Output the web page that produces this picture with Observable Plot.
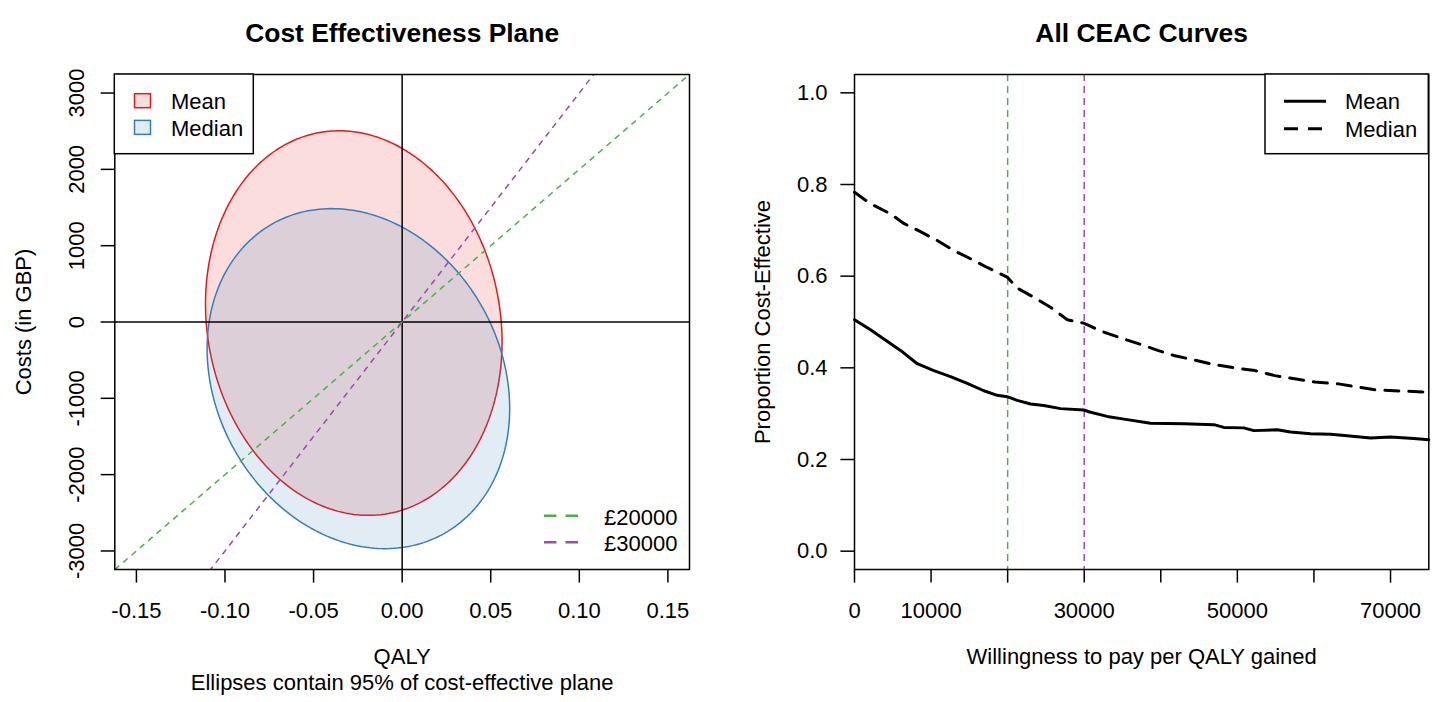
<!DOCTYPE html>
<html>
<head>
<meta charset="utf-8">
<script src="https://cdn.jsdelivr.net/npm/d3@7"></script>
<script src="https://cdn.jsdelivr.net/npm/@observablehq/plot@0.6"></script>
<style>
  html, body { margin: 0; padding: 0; background: white; }
  #wrap { position: relative; width: 1435px; height: 702px; overflow: hidden; background: white; }
  #left, #right { position: absolute; top: 0; }
  #left { left: 0; }
  #right { left: 717px; }
  svg text { font-family: "Liberation Sans", Arial, sans-serif; }
</style>
</head>
<body>
<div id="wrap"><div id="left"></div><div id="right"></div></div>
<script>
// ---------- Data ----------
// Cost-effectiveness plane: 95% ellipses
const ellipseNames = ["Mean", "Median"];
const ellipseColors = ["#E41A1C", "#377EB8"];
const ellipseCenterQaly = [-0.0273, -0.0247];
const ellipseCenterCost = [-14, -742];
const ellipseHalfWidthQaly = [0.0837, 0.0854];   // half width along QALY
const ellipseCostAtQalyExtreme = [-249, -393];   // cost offset at the QALY extremes
const ellipseCostSpread = [2507, 2193];          // remaining cost half-range

// Willingness-to-pay thresholds
const thresholds = [20000, 30000];
const thresholdLabels = ["£20000", "£30000"];
const thresholdColors = ["#4DAF4A", "#984EA3"];

// Axis ticks
const qalyTicks = [-0.15, -0.10, -0.05, 0.00, 0.05, 0.10, 0.15];
const costTicks = [-3000, -2000, -1000, 0, 1000, 2000, 3000];
const qalyDomain = [-0.1622, 0.1622];
const costDomain = [-3243, 3243];

const wtpTicks = [0, 10000, 20000, 30000, 40000, 50000, 60000, 70000];
const wtpTickLabels = [0, 10000, 30000, 50000, 70000];
const propTicks = [0, 0.2, 0.4, 0.6, 0.8, 1.0];
const wtpDomain = [0, 75000];
const propDomain = [-0.04, 1.04];

// CEAC curves
const ceacNames = ["Mean", "Median"];
const wtpMean = [0, 2090, 3830, 6010, 8190, 10360, 12540, 14720, 16890, 18640, 19940, 21250, 22990, 24720, 26900, 29950, 30840, 33000, 35610, 38660, 43010, 46930, 48230, 50840, 52150, 55200, 56940, 59550, 62160, 64350, 67390, 70000, 73040, 75000];
const propMean = [0.505, 0.483, 0.463, 0.438, 0.409, 0.394, 0.381, 0.366, 0.350, 0.340, 0.337, 0.329, 0.321, 0.318, 0.311, 0.308, 0.303, 0.294, 0.287, 0.279, 0.278, 0.276, 0.270, 0.269, 0.263, 0.265, 0.260, 0.256, 0.255, 0.252, 0.247, 0.249, 0.246, 0.243];
const wtpMedian = [0, 2090, 4700, 6440, 8620, 10800, 12970, 15150, 17330, 19940, 21250, 23420, 25600, 27800, 30000, 32200, 34800, 37400, 39600, 41700, 44400, 47000, 50000, 52300, 54900, 57500, 60100, 63200, 65800, 68000, 71900, 75000];
const propMedian = [0.783, 0.758, 0.736, 0.715, 0.697, 0.678, 0.656, 0.638, 0.619, 0.598, 0.574, 0.554, 0.532, 0.505, 0.497, 0.480, 0.465, 0.451, 0.438, 0.427, 0.417, 0.407, 0.399, 0.394, 0.383, 0.376, 0.369, 0.365, 0.358, 0.352, 0.349, 0.347];

// ---------- Build tables ----------
const ellipseRows = [];
ellipseNames.forEach((name, i) => {
  const n = 240;
  for (let k = 0; k < n; k++) {
    const t = 2 * Math.PI * k / n;
    ellipseRows.push({
      group: name,
      qaly: ellipseCenterQaly[i] + ellipseHalfWidthQaly[i] * Math.cos(t),
      cost: ellipseCenterCost[i] + ellipseCostAtQalyExtreme[i] * Math.cos(t) + ellipseCostSpread[i] * Math.sin(t)
    });
  }
});
const thresholdRows = thresholds.map((k, i) => ({
  k, color: thresholdColors[i],
  x1: qalyDomain[0], y1: k * qalyDomain[0], x2: qalyDomain[1], y2: k * qalyDomain[1]
}));
const meanRows = wtpMean.map((w, i) => ({wtp: w, p: propMean[i]}));
const medianRows = wtpMedian.map((w, i) => ({wtp: w, p: propMedian[i]}));

const FONT = '"Liberation Sans", Arial, sans-serif';
const baseStyle = {fontFamily: FONT, fontSize: "22px", background: "white", color: "black", overflow: "visible"};

// ---------- Left plot: Cost Effectiveness Plane ----------
const left = Plot.plot({
  width: 717, height: 702,
  marginLeft: 114.3, marginRight: 28, marginTop: 74, marginBottom: 133,
  style: baseStyle,
  x: {domain: qalyDomain, label: null},
  y: {domain: costDomain, label: null},
  marks: [
    ...ellipseNames.map((name, i) => Plot.line(ellipseRows.filter(d => d.group === name), {
      x: "qaly", y: "cost", curve: "linear-closed",
      fill: ellipseColors[i], fillOpacity: 0.15, stroke: ellipseColors[i], strokeWidth: 1.5
    })),
    Plot.ruleX([0], {stroke: "black", strokeWidth: 1.5}),
    Plot.ruleY([0], {stroke: "black", strokeWidth: 1.5}),
    Plot.link(thresholdRows, {x1: "x1", y1: "y1", x2: "x2", y2: "y2", stroke: "color", strokeWidth: 1.5, strokeDasharray: "6 5", clip: true}),
    Plot.frame({stroke: "black", strokeWidth: 1.5}),
    Plot.axisX({ticks: qalyTicks, tickFormat: d => d.toFixed(2), tickSize: 13.6, tickPadding: 18.8, strokeWidth: 1.5, label: null, fontSize: 22}),
    Plot.axisY({ticks: costTicks, tickFormat: d => String(d), tickSize: 13.6, tickPadding: 17.4, tickRotate: -90, strokeWidth: 1.5, label: null, fontSize: 22}),
    Plot.text(["Cost Effectiveness Plane"], {text: d => d, frameAnchor: "top", dy: -50.8, fontWeight: "bold", fontSize: 26.4, textAnchor: "middle"}),
    Plot.text(["QALY"], {text: d => d, frameAnchor: "bottom", dy: 94, fontSize: 22, textAnchor: "middle"}),
    Plot.text(["Ellipses contain 95% of cost-effective plane"], {text: d => d, frameAnchor: "bottom", dy: 120.7, fontSize: 22, textAnchor: "middle"}),
    Plot.text(["Costs (in GBP)"], {text: d => d, frameAnchor: "left", dx: -91.3, rotate: -90, fontSize: 22, textAnchor: "middle"})
  ]
});
document.getElementById("left").appendChild(left);

// ---------- Right plot: CEAC ----------
const right = Plot.plot({
  width: 718, height: 702,
  marginLeft: 137, marginRight: 6.7, marginTop: 74, marginBottom: 133,
  style: baseStyle,
  x: {domain: wtpDomain, label: null},
  y: {domain: propDomain, label: null},
  marks: [
    Plot.ruleX(thresholds, {stroke: (d, i) => thresholdColors[i], strokeWidth: 1.5, strokeDasharray: "7 5"}),
    Plot.line(meanRows, {x: "wtp", y: "p", stroke: "black", strokeWidth: 3}),
    Plot.line(medianRows, {x: "wtp", y: "p", stroke: "black", strokeWidth: 3, strokeDasharray: "14 10"}),
    Plot.frame({stroke: "black", strokeWidth: 1.5}),
    Plot.axisX({ticks: wtpTicks, tickFormat: d => wtpTickLabels.includes(d) ? String(d) : "", tickSize: 13.6, tickPadding: 18.8, strokeWidth: 1.5, label: null, fontSize: 22}),
    Plot.axisY({ticks: propTicks, tickFormat: d => d.toFixed(1), tickSize: 13.6, tickPadding: 13.4, strokeWidth: 1.5, label: null, fontSize: 22}),
    Plot.text(["All CEAC Curves"], {text: d => d, frameAnchor: "top", dy: -50.8, fontWeight: "bold", fontSize: 26.4, textAnchor: "middle"}),
    Plot.text(["Willingness to pay per QALY gained"], {text: d => d, frameAnchor: "bottom", dy: 94, fontSize: 22, textAnchor: "middle"}),
    Plot.text(["Proportion Cost-Effective"], {text: d => d, frameAnchor: "left", dx: -92, rotate: -90, fontSize: 22, textAnchor: "middle"})
  ]
});
document.getElementById("right").appendChild(right);

// ---------- Legends ----------
function legendText(g, x, y, s) {
  g.append("text").attr("x", x).attr("y", y).attr("font-size", 22).attr("fill", "black")
    .attr("text-anchor", "start").attr("font-family", FONT).text(s);
}
// Left: ellipse legend (top-left, boxed)
{
  const g = d3.select(left).append("g");
  g.append("rect").attr("x", 114.3).attr("y", 74).attr("width", 139).attr("height", 79.7)
    .attr("fill", "white").attr("stroke", "black").attr("stroke-width", 1.5);
  ellipseNames.forEach((name, i) => {
    const cy = [100.7, 127.4][i];
    g.append("rect").attr("x", 134.5).attr("y", cy - 7).attr("width", 16).attr("height", 14)
      .attr("fill", ellipseColors[i]).attr("fill-opacity", 0.15)
      .attr("stroke", ellipseColors[i]).attr("stroke-width", 1.5);
    legendText(g, 171, cy + 8.3, name);
  });
}
// Left: threshold legend (bottom-right, no box)
{
  const g = d3.select(left).append("g");
  thresholdLabels.forEach((lab, i) => {
    const cy = [515.7, 542.3][i];
    g.append("line").attr("x1", 544).attr("x2", 578.5).attr("y1", cy).attr("y2", cy)
      .attr("stroke", thresholdColors[i]).attr("stroke-width", 2.5).attr("stroke-dasharray", "12.5 9");
    legendText(g, 604, cy + 9, lab);
  });
}
// Right: CEAC legend (top-right, boxed)
{
  const g = d3.select(right).append("g");
  g.append("rect").attr("x", 548).attr("y", 74).attr("width", 163.3).attr("height", 79.7)
    .attr("fill", "white").attr("stroke", "black").attr("stroke-width", 1.5);
  ceacNames.forEach((name, i) => {
    const cy = [101.3, 128.8][i];
    g.append("line").attr("x1", 567).attr("x2", 609).attr("y1", cy).attr("y2", cy)
      .attr("stroke", "black").attr("stroke-width", 3)
      .attr("stroke-dasharray", i === 0 ? null : "14 10");
    legendText(g, 628, cy + 8, name);
  });
}
</script>
</body>
</html>
